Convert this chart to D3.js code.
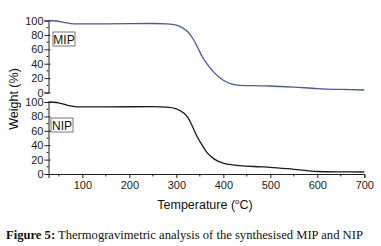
<!DOCTYPE html>
<html>
<head>
<meta charset="utf-8">
<script src="https://cdn.jsdelivr.net/npm/d3@7"></script>
<style>
  body { margin: 0; background: #fff; }
  svg { display: block; }
</style>
</head>
<body>
<div id="chart"></div>
<script>
const temps = [28, 45, 60, 75, 90, 150, 200, 250, 280, 300, 315, 325, 335, 345, 355, 365, 380, 400, 435, 480, 500, 550, 600, 650, 700];
const mipWeight = [100, 99.3, 97.5, 95.8, 95.2, 95.3, 95.6, 95.8, 95.2, 93.5, 89, 84, 75, 63, 50, 40, 28, 17, 10, 9.3, 9, 7.5, 5.5, 4.3, 3.5];
const nipWeight = [100, 99.3, 97, 94.5, 93.3, 93.2, 93.4, 93.6, 93, 90.5, 85, 78, 65, 51, 40, 30, 21, 15, 11.5, 10, 9.3, 6.5, 3.5, 3, 2.8];
const xTicks = [100, 200, 300, 400, 500, 600, 700];
const yTicks = [0, 20, 40, 60, 80, 100];

const makePlot = () => {
  const size = { width: 381, height: 246 };
  const svg = d3.select("#chart").append("svg")
    .attr("width", size.width).attr("height", size.height)
    .style("font-family", "Liberation Sans, Arial, sans-serif");

  const x = d3.scaleLinear().domain([28, 700]).range([48.5, 364.3]);
  const yTop = d3.scaleLinear().domain([0, 100]).range([92.5, 20.5]);
  const yBot = d3.scaleLinear().domain([0, 100]).range([174, 102]);

  const panels = [
    { y: yTop, data: mipWeight, color: "#4b57a3", label: "MIP", box: [53, 32] },
    { y: yBot, data: nipWeight, color: "#1a1a1a", label: "NIP", box: [51, 118] },
  ];

  panels.forEach((p) => {
    const axis = svg.append("g")
      .attr("transform", `translate(${x.range()[0]},0)`)
      .style("font-size", "11px")
      .call(d3.axisLeft(p.y).tickValues(yTicks).tickSize(4).tickPadding(1));
    axis.select(".domain").attr("stroke", "#222");
    axis.selectAll(".tick line").attr("stroke", "#222").attr("x2", 2).attr("x1", -4);
    axis.selectAll("text").attr("fill", "#222");
    // minor ticks
    d3.range(10, 100, 20).forEach((v) => {
      axis.append("line")
        .attr("x1", -2).attr("x2", 0)
        .attr("y1", p.y(v)).attr("y2", p.y(v))
        .attr("stroke", "#222");
    });

    const line = d3.line()
      .x((d, i) => x(temps[i]))
      .y((d) => p.y(d))
      .curve(d3.curveMonotoneX);
    svg.append("path")
      .datum(p.data)
      .attr("d", line)
      .attr("fill", "none")
      .attr("stroke", p.color)
      .attr("stroke-width", 1.3);

    const g = svg.append("g").attr("transform", `translate(${p.box[0]},${p.box[1]})`);
    g.append("rect")
      .attr("width", 22).attr("height", 14)
      .attr("fill", "#fff").attr("stroke", "#555").attr("stroke-width", 0.8);
    g.append("text")
      .text(p.label)
      .attr("x", 11).attr("y", 11.5)
      .attr("text-anchor", "middle")
      .style("font-size", "12px")
      .attr("fill", "#111");
  });

  const xAxis = svg.append("g")
    .attr("transform", `translate(0,${yBot(0)})`)
    .style("font-size", "11px")
    .call(d3.axisBottom(x).tickValues(xTicks).tickSize(4).tickPadding(3));
  xAxis.select(".domain").attr("stroke", "#222");
  xAxis.selectAll(".tick line").attr("stroke", "#222");
  xAxis.selectAll("text").attr("fill", "#222");
  d3.range(50, 700, 100).forEach((v) => {
    xAxis.append("line")
      .attr("x1", x(v)).attr("x2", x(v))
      .attr("y1", 0).attr("y2", 2.5)
      .attr("stroke", "#222");
  });

  svg.append("text")
    .text("Temperature (")
    .attr("x", 205).attr("y", 209)
    .attr("text-anchor", "middle")
    .style("font-size", "12.5px")
    .attr("fill", "#111")
    .append("tspan").text("o").attr("dy", -5).style("font-size", "8px")
    .select(function () { return this.parentNode; })
    .append("tspan").text("C)").attr("dy", 5);

  svg.append("text")
    .text("Weight (%)")
    .attr("transform", "translate(18,99) rotate(-90)")
    .attr("text-anchor", "middle")
    .style("font-size", "12.5px")
    .attr("fill", "#111");

  const cap = svg.append("text")
    .attr("x", 6).attr("y", 239)
    .style("font-family", "Liberation Serif, DejaVu Serif, serif")
    .style("font-size", "12.6px")
    .attr("fill", "#111");
  cap.append("tspan").text("Figure 5:").style("font-weight", "bold");
  cap.append("tspan").text(" Thermogravimetric analysis of the synthesised MIP and NIP");
};

makePlot();
</script>
</body>
</html>
